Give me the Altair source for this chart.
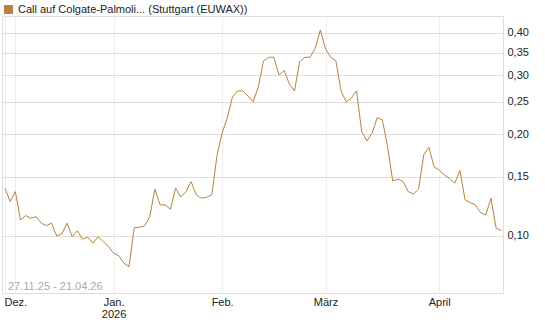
import altair as alt
import pandas as pd

series_name = "Call auf Colgate-Palmoli... (Stuttgart (EUWAX))"
range_text = "27.11.25 - 21.04.26"

# one value per trading day, 27.11.25 .. 21.04.26
values = [
    0.1385, 0.1264, 0.1353, 0.1115, 0.1149, 0.1128, 0.1141, 0.1091, 0.1073, 0.1091,
    0.1000, 0.1014, 0.1091, 0.0995, 0.1035, 0.0978, 0.0991, 0.0951, 0.0995, 0.0962,
    0.0930, 0.0889, 0.0874, 0.0830, 0.0811, 0.1058, 0.1061, 0.1071, 0.1141, 0.1376,
    0.1236, 0.1236, 0.1200, 0.1385, 0.1305, 0.1353, 0.1449, 0.1323, 0.1294, 0.1302,
    0.1323, 0.1727, 0.2021, 0.2238, 0.2584, 0.2692, 0.2692, 0.2602, 0.2502, 0.2766,
    0.3304, 0.3388, 0.3388, 0.3002, 0.3092, 0.2823, 0.2692, 0.3288, 0.3388, 0.3388,
    0.3603, 0.4082, 0.3585, 0.3388, 0.3311, 0.2692, 0.2497, 0.2566, 0.2692, 0.2039,
    0.1913, 0.2016, 0.2243, 0.2208, 0.1840, 0.1456, 0.1473, 0.1449, 0.1353, 0.1332,
    0.1376, 0.1739, 0.1832, 0.1602, 0.1569, 0.1516, 0.1483, 0.1433, 0.1562, 0.1279,
    0.1255, 0.1236, 0.1172, 0.1154, 0.1294, 0.1054, 0.1037,
]

x_tick_pos = [0, 2, 21, 42, 62, 84]
x_tick_labels = [[""], ["Dez."], ["Jan.", "2026"], ["Feb."], ["März"], ["April"]]
y_ticks = [0.10, 0.15, 0.20, 0.25, 0.30, 0.35, 0.40]

line_color = "#b5833f"
font = "Liberation Sans"

df = pd.DataFrame({"i": list(range(len(values))), "v": values, "s": series_name})
txt = pd.DataFrame({"t": [range_text]})

# build label expression
expr = "''"
for p, lab in reversed(list(zip(x_tick_pos, x_tick_labels))):
    if len(lab) == 1:
        l = "'" + lab[0] + "'"
    else:
        l = "[" + ",".join("'" + s + "'" for s in lab) + "]"
    expr = f"datum.value == {p} ? {l} : ({expr})"

line = alt.Chart(df).mark_line(strokeWidth=1, interpolate="linear").encode(
    x=alt.X("i:Q",
            scale=alt.Scale(domain=[-0.58, 96.33], nice=False, zero=False),
            axis=alt.Axis(values=x_tick_pos, labelExpr=expr, title=None,
                          domain=False, ticks=False, grid=True, gridColor="#eeeeee",
                          labelFontSize=11, labelColor="#222222", labelFont=font,
                          labelPadding=3, labelOverlap=False, labelFlush=False,
                          labelBaseline="top", labelLineHeight=12)),
    y=alt.Y("v:Q",
            scale=alt.Scale(type="log", domain=[0.0677, 0.4492], nice=False, zero=False),
            axis=alt.Axis(values=y_ticks, orient="right", title=None,
                          labelExpr="replace(format(datum.value, '.2f'), '.', ',')",
                          domain=False, ticks=False, grid=True, gridColor="#dddddd",
                          labelFontSize=11, labelColor="#222222", labelFont=font,
                          labelPadding=4)),
    color=alt.Color("s:N",
                    scale=alt.Scale(domain=[series_name], range=[line_color]),
                    legend=alt.Legend(orient="none", legendX=1, legendY=-12, title=None,
                                      symbolType="square", symbolSize=64,
                                      symbolFillColor=line_color, symbolStrokeColor="#6e4f23",
                                      symbolStrokeWidth=1,
                                      labelFontSize=11, labelColor="#222222", labelFont=font,
                                      labelLimit=0, symbolOffset=0, padding=0)),
)

label = alt.Chart(txt).mark_text(align="left", baseline="middle", fontSize=11,
                                 font=font, color="#a3aab8").encode(
    text="t:N", x=alt.value(6), y=alt.value(271))

chart = alt.layer(line, label).properties(
    width=501, height=277,
    autosize=alt.AutoSizeParams(type="none"),
    padding={"left": 2, "top": 16, "right": 42, "bottom": 34},
).configure_view(stroke="#cccccc", strokeWidth=1).configure(background="white")

chart.save("out.html", embed_options={"renderer": "svg", "actions": False})
